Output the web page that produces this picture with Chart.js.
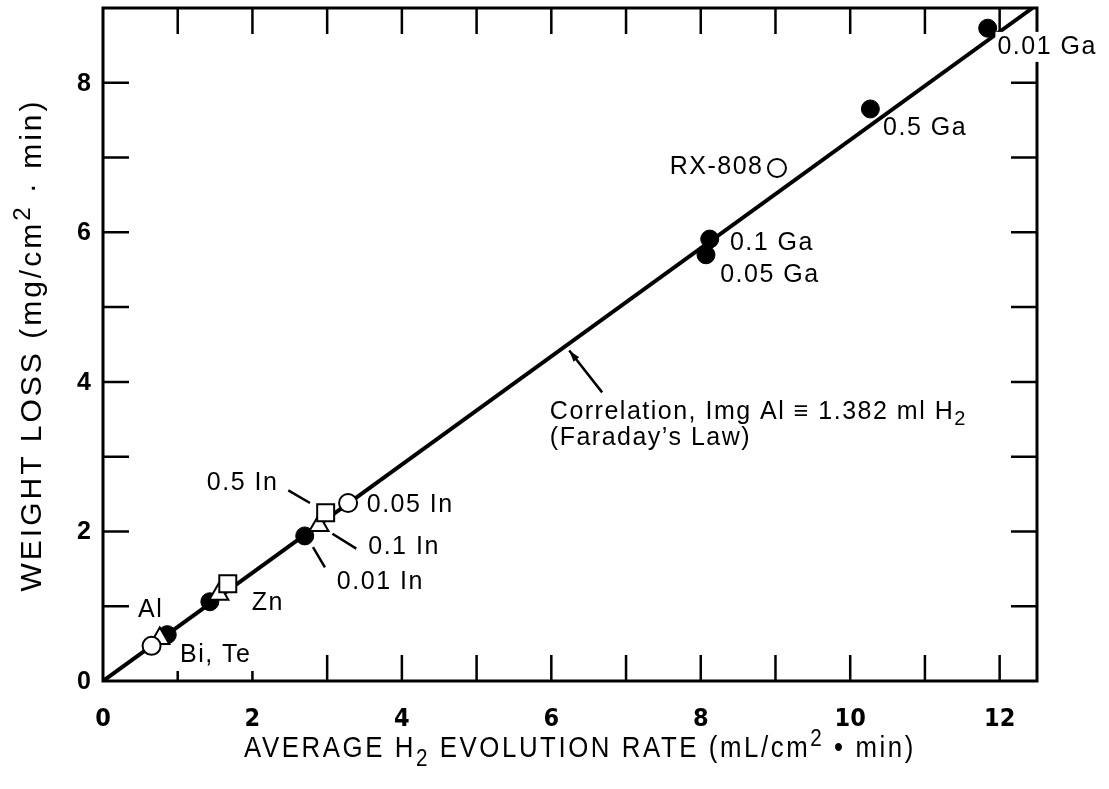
<!DOCTYPE html>
<html>
<head>
<meta charset="utf-8">
<script src="https://cdn.jsdelivr.net/npm/chart.js@4.4.1/dist/chart.umd.min.js"></script>
<style>
  html, body { margin: 0; padding: 0; background: #fff; }
  #wrap { width: 1109px; height: 789px; }
</style>
</head>
<body>
<div id="wrap"><canvas id="h2Chart" width="1109" height="789"></canvas></div>
<script>
// Weight loss vs. average H2 evolution rate, Al alloys with Ga / In / Zn / Bi, Te additions

// solid circles (Ga series, 0.01 In, Zn, Al)
const solidX = [11.84, 10.27, 8.12, 8.07, 2.70, 1.43, 0.86];
const solidY = [8.73, 7.65, 5.91, 5.70, 1.94, 1.06, 0.62];
// open circles (RX-808, 0.05 In, Bi/Te)
const openCircleX = [9.02, 3.28, 0.65];
const openCircleY = [6.86, 2.38, 0.47];
// open triangles
const triangleX = [2.89, 1.55, 0.76];
const triangleY = [2.08, 1.16, 0.57];
// open squares
const squareX = [2.98, 1.67];
const squareY = [2.25, 1.30];

// correlation line, 1 mg Al = 1.382 ml H2
const lineX = [0, 12.44];
const lineY = [0, 9.0];

const xTicks = [0, 2, 4, 6, 8, 10, 12];
const yTicks = [0, 2, 4, 6, 8];
const shortBottomTicks = [1, 2];

const toPoints = (xs, ys) => xs.map((x, i) => ({ x: x, y: ys[i] }));

const TEXT_FONT = '"Liberation Sans", Arial, sans-serif';

// point labels, leader lines and the correlation note (data coordinates)
const pointLabels = [
  { text: [{ t: '0.01 Ga' }], x: 11.97, y: 8.48, knockout: true },
  { text: [{ t: '0.5 Ga' }], x: 10.44, y: 7.39 },
  { text: [{ t: 'RX-808' }], x: 8.84, y: 6.87, align: 'right' },
  { text: [{ t: '0.1 Ga' }], x: 8.39, y: 5.86 },
  { text: [{ t: '0.05 Ga' }], x: 8.26, y: 5.43 },
  { text: [{ t: '0.5 In' }], x: 1.39, y: 2.65 },
  { text: [{ t: '0.05 In' }], x: 3.53, y: 2.35 },
  { text: [{ t: '0.1 In' }], x: 3.55, y: 1.79 },
  { text: [{ t: '0.01 In' }], x: 3.13, y: 1.32 },
  { text: [{ t: 'Al' }], x: 0.47, y: 0.95 },
  { text: [{ t: 'Zn' }], x: 1.99, y: 1.04 },
  { text: [{ t: 'Bi, Te' }], x: 1.03, y: 0.35 },
  { text: [{ t: 'Correlation, Img Al \u2261 1.382 ml H' }, { t: '2', s: 'sub' }], x: 5.98, y: 3.60 },
  { text: [{ t: '(Faraday\u2019s Law)' }], x: 5.98, y: 3.25 }
];
const leaders = [
  [2.48, 2.55, 2.77, 2.38],
  [3.07, 1.97, 3.39, 1.77],
  [2.81, 1.79, 2.97, 1.52]
];
const arrow = [6.68, 3.86, 6.24, 4.42];

function drawRich(ctx, parts, size, x, y, align) {
  const fontFor = p => (p.s ? Math.round(size * 0.8) : size) + 'px ' + TEXT_FONT;
  let w = 0;
  parts.forEach(p => { ctx.font = fontFor(p); w += ctx.measureText(p.t).width; });
  let px = align === 'center' ? x - w / 2 : align === 'right' ? x - w : x;
  ctx.textAlign = 'left';
  parts.forEach(p => {
    ctx.font = fontFor(p);
    const dy = p.s === 'sub' ? size * 0.3 : p.s === 'sup' ? -size * 0.38 : 0;
    ctx.fillText(p.t, px, y + dy);
    px += ctx.measureText(p.t).width;
  });
  return w;
}

// plot frame with inward ticks on all four sides, plus the y tick labels
const frameAndTicks = {
  id: 'frameAndTicks',
  beforeDatasetsDraw(chart) {
    const { ctx, chartArea: a, scales: { x, y } } = chart;
    ctx.save();
    ctx.strokeStyle = '#000';
    ctx.lineWidth = 2.5;
    ctx.beginPath();
    for (let v = 1; v <= 12; v++) {
      const px = x.getPixelForValue(v);
      const lenB = shortBottomTicks.includes(v) ? 10 : 26;
      ctx.moveTo(px, a.bottom); ctx.lineTo(px, a.bottom - lenB);
      ctx.moveTo(px, a.top); ctx.lineTo(px, a.top + 26);
    }
    for (let v = 1; v <= 8; v++) {
      const py = y.getPixelForValue(v);
      ctx.moveTo(a.left, py); ctx.lineTo(a.left + 26, py);
      ctx.moveTo(a.right, py); ctx.lineTo(a.right - 26, py);
    }
    ctx.stroke();
    ctx.lineWidth = 3;
    ctx.strokeRect(a.left, a.top, a.right - a.left, a.bottom - a.top);

    ctx.fillStyle = '#000';
    ctx.font = 'bold 25px ' + TEXT_FONT;
    ctx.textAlign = 'right';
    ctx.textBaseline = 'middle';
    yTicks.forEach(v => ctx.fillText(String(v), a.left - 12, y.getPixelForValue(v) + 1));
    ctx.restore();
  }
};

// text labels, leader lines, arrow and axis titles
const annotations = {
  id: 'annotations',
  afterDraw(chart) {
    const { ctx, scales: { x, y }, chartArea: a } = chart;
    ctx.save();
    ctx.fillStyle = '#000';
    ctx.strokeStyle = '#000';
    ctx.textBaseline = 'middle';
    ctx.letterSpacing = '1.5px';
    pointLabels.forEach(l => {
      const px = x.getPixelForValue(l.x);
      const py = y.getPixelForValue(l.y);
      if (l.knockout) {
        ctx.font = '25px ' + TEXT_FONT;
        const w = ctx.measureText(l.text[0].t).width;
        ctx.fillStyle = '#fff';
        ctx.fillRect(px - 2, py - 15, w + 4, 30);
        ctx.fillStyle = '#000';
      }
      drawRich(ctx, l.text, 25, px, py, l.align || 'left');
    });

    ctx.lineWidth = 2.5;
    ctx.beginPath();
    leaders.forEach(s => {
      ctx.moveTo(x.getPixelForValue(s[0]), y.getPixelForValue(s[1]));
      ctx.lineTo(x.getPixelForValue(s[2]), y.getPixelForValue(s[3]));
    });
    const ax0 = x.getPixelForValue(arrow[0]), ay0 = y.getPixelForValue(arrow[1]);
    const ax1 = x.getPixelForValue(arrow[2]), ay1 = y.getPixelForValue(arrow[3]);
    ctx.moveTo(ax0, ay0); ctx.lineTo(ax1, ay1);
    ctx.stroke();
    const ang = Math.atan2(ay1 - ay0, ax1 - ax0);
    ctx.beginPath();
    ctx.moveTo(ax1, ay1);
    ctx.lineTo(ax1 - 12 * Math.cos(ang - 0.3), ay1 - 12 * Math.sin(ang - 0.3));
    ctx.lineTo(ax1 - 12 * Math.cos(ang + 0.3), ay1 - 12 * Math.sin(ang + 0.3));
    ctx.closePath();
    ctx.fill();

    // axis titles
    ctx.textBaseline = 'alphabetic';
    ctx.save();
    ctx.letterSpacing = '3px';
    ctx.translate(580, 757);
    ctx.scale(0.86, 1);
    drawRich(ctx, [
      { t: 'AVERAGE H' }, { t: '2', s: 'sub' }, { t: ' EVOLUTION RATE (mL/cm' },
      { t: '2', s: 'sup' }, { t: ' \u2022 min)' }
    ], 30, 0, 0, 'center');
    ctx.restore();

    ctx.save();
    ctx.letterSpacing = '3px';
    ctx.translate(41, 345);
    ctx.rotate(-Math.PI / 2);
    drawRich(ctx, [
      { t: 'WEIGHT LOSS (mg/cm' }, { t: '2', s: 'sup' }, { t: ' \u00b7 min)' }
    ], 30, 0, 0, 'center');
    ctx.restore();
    ctx.restore();
  }
};

new Chart(document.getElementById('h2Chart'), {
  type: 'scatter',
  data: {
    datasets: [
      {
        label: 'Bi, Te / 0.05 In / RX-808',
        data: toPoints(openCircleX, openCircleY),
        pointStyle: 'circle', pointRadius: 9,
        backgroundColor: '#fff', borderColor: '#000', borderWidth: 2,
        order: 1
      },
      {
        label: 'open squares',
        data: toPoints(squareX, squareY),
        pointStyle: 'rect', pointRadius: 12,
        backgroundColor: '#fff', borderColor: '#000', borderWidth: 2,
        order: 2
      },
      {
        label: 'open triangles',
        data: toPoints(triangleX, triangleY),
        pointStyle: 'triangle', pointRadius: 11,
        backgroundColor: '#fff', borderColor: '#000', borderWidth: 2,
        order: 3
      },
      {
        label: 'solid circles',
        data: toPoints(solidX, solidY),
        pointStyle: 'circle', pointRadius: 9,
        backgroundColor: '#000', borderColor: '#000', borderWidth: 1,
        order: 4
      },
      {
        type: 'line',
        label: 'Correlation',
        data: toPoints(lineX, lineY),
        borderColor: '#000', borderWidth: 4,
        pointRadius: 0, fill: false, tension: 0,
        order: 5
      }
    ]
  },
  options: {
    responsive: false,
    animation: false,
    layout: { autoPadding: false, padding: { top: 8, right: 72, left: 0, bottom: 0 } },
    plugins: { legend: { display: false }, tooltip: { enabled: false } },
    scales: {
      x: {
        type: 'linear', min: 0, max: 12.5,
        grid: { display: false, drawTicks: false },
        border: { display: false },
        afterBuildTicks: s => { s.ticks = xTicks.map(v => ({ value: v })); },
        afterFit: s => { s.height = 108; s.paddingLeft = 0; s.paddingRight = 0; },
        ticks: {
          color: '#000', padding: 23, maxRotation: 0,
          font: { family: '"Liberation Sans Narrow", "DejaVu Sans Condensed", "Liberation Sans"', size: 25, weight: 'bold' }
        }
      },
      y: {
        type: 'linear', min: 0, max: 9,
        grid: { display: false, drawTicks: false },
        border: { display: false },
        afterBuildTicks: s => { s.ticks = yTicks.map(v => ({ value: v })); },
        afterFit: s => { s.width = 103; },
        ticks: { display: false }
      }
    }
  },
  plugins: [frameAndTicks, annotations]
});
</script>
</body>
</html>
